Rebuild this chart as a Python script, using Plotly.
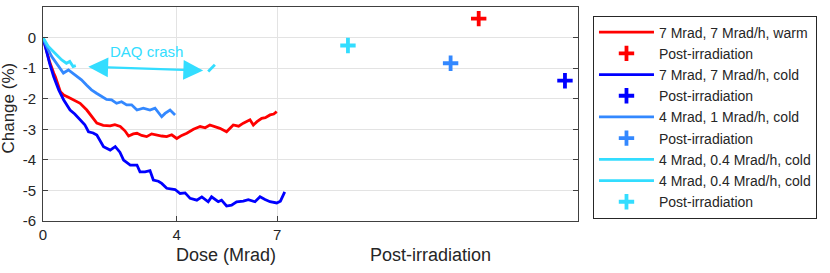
import plotly.graph_objects as go

# ---------------- data ----------------
red_x = [0, 0.1, 0.2, 0.32, 0.37, 0.52, 0.62, 0.76, 0.91, 1.11, 1.31, 1.46, 1.61, 1.8, 2.01, 2.15,
         2.31, 2.45, 2.56, 2.7, 2.81, 2.95, 3.10, 3.25, 3.40, 3.55, 3.70, 3.85, 4.0, 4.15, 4.30, 4.5,
         4.70, 4.85, 4.99, 5.15, 5.29, 5.49, 5.69, 5.85, 5.99, 6.19, 6.29, 6.4, 6.54, 6.65, 6.79, 6.9, 6.99]
red_y = [0, -0.4, -0.8, -1.16, -1.28, -1.77, -1.88, -1.95, -2.04, -2.15, -2.37, -2.59, -2.80, -2.87,
         -2.89, -2.85, -2.91, -3.05, -3.22, -3.15, -3.13, -3.2, -3.24, -3.15, -3.19, -3.22, -3.24, -3.18,
         -3.30, -3.2, -3.13, -3.0, -2.91, -2.95, -2.86, -2.92, -2.97, -3.08, -2.86, -2.9, -2.80, -2.69,
         -2.86, -2.75, -2.64, -2.62, -2.53, -2.5, -2.42]

blue_x = [0, 0.1, 0.2, 0.32, 0.47, 0.62, 0.81, 0.95, 1.11, 1.25, 1.36, 1.5, 1.61, 1.81, 2.01, 2.16,
          2.3, 2.41, 2.61, 2.81, 2.90, 3.05, 3.20, 3.30, 3.45, 3.55, 3.70, 3.85, 3.95, 4.10, 4.25, 4.40,
          4.60, 4.75, 4.94, 5.04, 5.24, 5.34, 5.49, 5.64, 5.79, 5.99, 6.14, 6.34, 6.49, 6.64, 6.79, 6.99,
          7.1, 7.23]
blue_y = [0, -0.45, -0.85, -1.28, -1.71, -2.04, -2.37, -2.5, -2.70, -2.85, -3.08, -3.12, -3.19, -3.57,
          -3.68, -3.57, -3.75, -4.01, -4.17, -4.17, -4.39, -4.39, -4.35, -4.66, -4.7, -4.77, -4.93, -4.95,
          -4.97, -5.10, -5.08, -5.26, -5.32, -5.21, -5.37, -5.21, -5.37, -5.32, -5.51, -5.48, -5.37, -5.35,
          -5.30, -5.37, -5.21, -5.30, -5.37, -5.41, -5.35, -5.05]

mid_x = [0, 0.06, 0.26, 0.46, 0.61, 0.76, 0.96, 1.15, 1.3, 1.45, 1.6, 1.75, 1.9, 2.05, 2.2, 2.35,
         2.5, 2.65, 2.81, 3.0, 3.20, 3.35, 3.45, 3.55, 3.65, 3.80, 3.95]
mid_y = [0, -0.18, -0.62, -0.95, -1.16, -1.06, -1.22, -1.38, -1.55, -1.71, -1.82, -1.93, -2.02, -2.04,
         -2.15, -2.10, -2.2, -2.20, -2.37, -2.31, -2.37, -2.31, -2.45, -2.59, -2.48, -2.37, -2.53]

cyan1_x = [0, 0.16, 0.36, 0.56, 0.70, 0.80, 0.90, 0.98]
cyan1_y = [0, -0.29, -0.51, -0.73, -0.84, -0.78, -0.95, -0.92]
cyan2_x = [4.94, 5.04, 5.14]
cyan2_y = [-1.11, -1.0, -0.89]

post_red = (13.03, 0.62)
post_blue = (15.61, -1.41)
post_mid = (12.19, -0.84)
post_cyan = (9.12, -0.26)

x_ticks = [0, 4, 7]
y_ticks = [1, 0, -1, -2, -3, -4, -5, -6]

names = ["7 Mrad, 7 Mrad/h, warm", "7 Mrad, 7 Mrad/h, cold", "4 Mrad, 1 Mrad/h, cold",
         "4 Mrad, 0.4 Mrad/h, cold"]

RED = "#FF0000"
BLUE = "#0000FF"
MID = "#3388FF"
CYAN = "#33DDFF"
TXT = "#262626"
FONT = "Liberation Sans, Arial, Helvetica, sans-serif"

fig = go.Figure()

def line(x, y, c, n):
    fig.add_trace(go.Scatter(x=x, y=y, mode="lines", name=n,
                             line=dict(color=c, width=2.8)))

def post(p, c):
    fig.add_trace(go.Scatter(x=[p[0]], y=[p[1]], mode="markers", name="Post-irradiation",
                             marker=dict(symbol="cross-thin", size=11, color=c,
                                         line=dict(color=c, width=3.8))))

line(red_x, red_y, RED, names[0]); post(post_red, RED)
line(blue_x, blue_y, BLUE, names[1]); post(post_blue, BLUE)
line(mid_x, mid_y, MID, names[2]); post(post_mid, MID)
line(cyan1_x, cyan1_y, CYAN, names[3])
line(cyan2_x, cyan2_y, CYAN, names[3])
post(post_cyan, CYAN)

fig.update_layout(
    width=830, height=273,
    margin=dict(l=43, r=252, t=7, b=52, autoexpand=False),
    paper_bgcolor="white", plot_bgcolor="white",
    font=dict(family=FONT, size=15, color=TXT),
    showlegend=True,
    legend=dict(x=1.028, y=0.96, xanchor="left", yanchor="top",
                bordercolor=TXT, borderwidth=1, bgcolor="white",
                font=dict(size=14, color=TXT), tracegroupgap=0, itemwidth=55),
    xaxis=dict(range=[0, 16], tickvals=x_ticks, ticktext=[str(v) for v in x_ticks],
               showgrid=True, gridcolor="#E3E3E3", gridwidth=1, automargin=False,
               showline=True, linecolor="#404040", linewidth=1, mirror=True,
               ticks="inside", ticklen=5, tickcolor="#404040", zeroline=False,
               tickfont=dict(size=15, color=TXT)),
    yaxis=dict(range=[-6, 1], tickvals=y_ticks, ticktext=[str(v) for v in y_ticks],
               showgrid=True, gridcolor="#E3E3E3", gridwidth=1, automargin=False,
               showline=True, linecolor="#404040", linewidth=1, mirror="ticks",
               ticks="inside", ticklen=5, tickcolor="#404040", zeroline=False,
               tickfont=dict(size=15, color=TXT), ticklabelstandoff=3),
    annotations=[
        dict(text="Dose (Mrad)", xref="paper", yref="paper", x=0.342, y=-0.159,
             showarrow=False, xanchor="center", yanchor="middle", font=dict(size=18, color=TXT)),
        dict(text="Post-irradiation", xref="paper", yref="paper", x=0.725, y=-0.159,
             showarrow=False, xanchor="center", yanchor="middle", font=dict(size=18, color=TXT)),
        dict(text="Change (%)", xref="paper", yref="paper", x=-0.0636, y=0.53,
             textangle=-90, showarrow=False, xanchor="center", yanchor="middle",
             font=dict(size=17, color=TXT)),
        dict(text="DAQ crash", xref="x", yref="y", x=3.10, y=-0.456, showarrow=False,
             xanchor="center", yanchor="middle", font=dict(size=15, color=CYAN)),
        dict(text="", xref="x", yref="y", axref="x", ayref="y",
             x=4.79, y=-1.08, ax=1.31, ay=-0.95, showarrow=True,
             arrowside="end+start", arrowhead=2, arrowsize=1.8, arrowwidth=2.2,
             arrowcolor=CYAN, standoff=0, startstandoff=0),
    ],
)

fig.write_html("out.html", config={"displayModeBar": False},
               post_script="document.body.style.margin='0px';")
